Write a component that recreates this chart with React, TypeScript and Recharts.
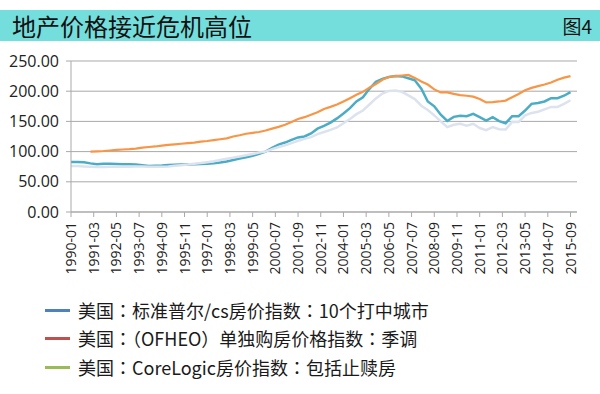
import React from 'react';
import { LineChart, Line, XAxis, YAxis, CartesianGrid } from 'recharts';

// values sampled every 4 months, 1990-01 .. 2015-09
const startYear = 1990;
const stepMonths = 4;

const csTenCity = [
  82.8, 82.8, 82.3, 80.5, 79, 80, 80, 79.5, 79, 79, 78.5, 77.5,
  76.2, 76.5, 77, 78, 78.3, 78.5, 78.5, 79, 79.5, 80, 80.5, 82,
  83.5, 86, 88.5, 90.5, 93, 96.5, 100, 106, 111.5, 115, 119.5, 123.5,
  125, 130, 138, 142.5, 148, 155, 163, 172, 183, 190, 204, 215.5,
  220.5, 223.5, 225, 224.5, 221.5, 218, 204, 183, 175, 161, 150.7, 157.5,
  159.5, 158.5, 162.5, 157, 151.5, 157, 150.5, 147, 158.5, 158.5, 168, 179,
  180.5, 183, 188.5, 188.5, 192.5, 198.5,
];

const ofheo = [
  null, null, null, 100, 100.5, 101, 101.8, 102.7, 103.5, 104, 105, 106.5,
  107.6, 108.5, 110, 111, 112, 113, 114, 115, 116.5, 117.5, 119, 120.5,
  122, 125, 127, 129.5, 131, 132.5, 135, 138, 141, 144.5, 149, 154,
  157, 161, 165, 170.5, 174, 178, 183, 188.5, 194, 199, 206, 212,
  219, 223.5, 225, 226, 227, 222, 216, 211, 203, 198, 198, 195.5,
  193.5, 192.5, 191, 187, 181.5, 182, 183, 184.5, 190, 195.5, 201.5, 205.5,
  208.5, 211, 214.5, 219, 222.5, 225,
];

const coreLogic = [
  76, 76, 75.5, 75, 74.5, 74.5, 75, 75, 75, 75, 75.5, 75.5,
  75, 75, 75, 75.5, 76.5, 77.5, 78.5, 80, 81, 82.5, 84, 86,
  88, 90, 92, 94, 96, 98.5, 100, 104, 107.5, 110.5, 114, 118,
  121, 124, 129, 132.5, 136, 140, 147, 154, 162, 168, 178, 188,
  196, 200.5, 201, 199, 193, 187, 176, 169, 160, 150, 140.5, 144.5,
  146, 143, 146, 139, 135.5, 140.5, 137, 136.5, 149, 149, 160, 164,
  166, 170, 174, 174, 179, 185,
];

const xTickLabels = [
  '1990-01', '1991-03', '1992-05', '1993-07', '1994-09', '1995-11', '1997-01', '1998-03',
  '1999-05', '2000-07', '2001-09', '2002-11', '2004-01', '2005-03', '2006-05', '2007-07',
  '2008-09', '2009-11', '2011-01', '2012-03', '2013-05', '2014-07', '2015-09',
];
const xTickStep = 14;
const yTicks = [0, 50, 100, 150, 200, 250];

const seriesNames = [
  '美国：标准普尔/cs房价指数：10个打中城市',
  '美国：（OFHEO）单独购房价格指数：季调',
  '美国：CoreLogic房价指数：包括止赎房',
];
const lineColors = ['#4BACC6', '#F79646', '#DCE3EF'];
// legend swatches in the source don't match the line colours
const legendColors = ['#4F81BD', '#C0504D', '#9BBB59'];
const legendRowCenters = [310, 338, 367];

const data = csTenCity.map((v, i) => {
  const m = i * stepMonths;
  const label = `${startYear + Math.floor(m / 12)}-${String((m % 12) + 1).padStart(2, '0')}`;
  return { m, label, cs: v, ofheo: ofheo[i], core: coreLogic[i] };
});

const font = '"Noto Sans CJK SC", "Noto Sans", sans-serif';

function XTick({ x, y, payload }: any) {
  const label = xTickLabels[Math.round(payload.value / xTickStep)];
  const bx = x + 5;
  return (
    <text
      x={bx}
      y={y}
      transform={`rotate(-90, ${bx}, ${y})`}
      textAnchor="end"
      fontSize={14}
      fontFamily='"Open Sans", sans-serif'
      fill="#222"
    >
      {label}
    </text>
  );
}

export default function App() {
  return (
    <div
      style={{
        position: 'absolute',
        left: 0,
        top: 0,
        width: 600,
        height: 394,
        background: '#fff',
        fontFamily: font,
      }}
    >
      <div
        style={{
          position: 'absolute',
          left: 0,
          top: 10,
          width: 600,
          height: 31,
          background: '#74DEDC',
          zIndex: 2,
        }}
      >
        <span style={{ position: 'absolute', left: 12, top: -2, fontSize: 24, color: '#111' }}>
          地产价格接近危机高位
        </span>
        <span style={{ position: 'absolute', right: 8, top: 2, fontSize: 19, color: '#111' }}>
          图4
        </span>
      </div>

      <LineChart
        width={600}
        height={394}
        data={data}
        margin={{ top: 61, right: 23, left: 11, bottom: 122 }}
      >
        <CartesianGrid stroke="#A9A9A9" vertical={false} />
        <XAxis
          dataKey="m"
          type="number"
          domain={[0, 312]}
          ticks={xTickLabels.map((_, i) => i * xTickStep)}
          tick={<XTick />}
          tickSize={5}
          tickMargin={5}
          height={60}
          stroke="#A9A9A9"
          interval={0}
        />
        <YAxis
          domain={[0, 250]}
          ticks={yTicks}
          tickFormatter={(v) => v.toFixed(2)}
          tick={{ fontSize: 16, fill: '#222', fontFamily: '"Open Sans", sans-serif' }}
          tickSize={5}
          tickMargin={7}
          width={60}
          stroke="#A9A9A9"
          interval={0}
        />
        <Line
          dataKey="cs"
          stroke={lineColors[0]}
          strokeWidth={2.5}
          dot={false}
          isAnimationActive={false}
        />
        <Line
          dataKey="ofheo"
          stroke={lineColors[1]}
          strokeWidth={2.2}
          dot={false}
          isAnimationActive={false}
        />
        <Line
          dataKey="core"
          stroke={lineColors[2]}
          strokeWidth={2.5}
          dot={false}
          isAnimationActive={false}
        />
      </LineChart>

      {seriesNames.map((name, i) => (
        <div
          key={name}
          style={{
            position: 'absolute',
            left: 45,
            top: legendRowCenters[i] - 14,
            height: 28,
            display: 'flex',
            alignItems: 'center',
            fontSize: 18,
            color: '#1a1a1a',
            fontFamily: '"Noto Sans CJK TC", "Noto Sans CJK SC", sans-serif',
            whiteSpace: 'nowrap',
          }}
        >
          <span
            style={{ display: 'inline-block', width: 25, height: 3, background: legendColors[i], marginRight: 8 }}
          />
          <span>{name}</span>
        </div>
      ))}
    </div>
  );
}
